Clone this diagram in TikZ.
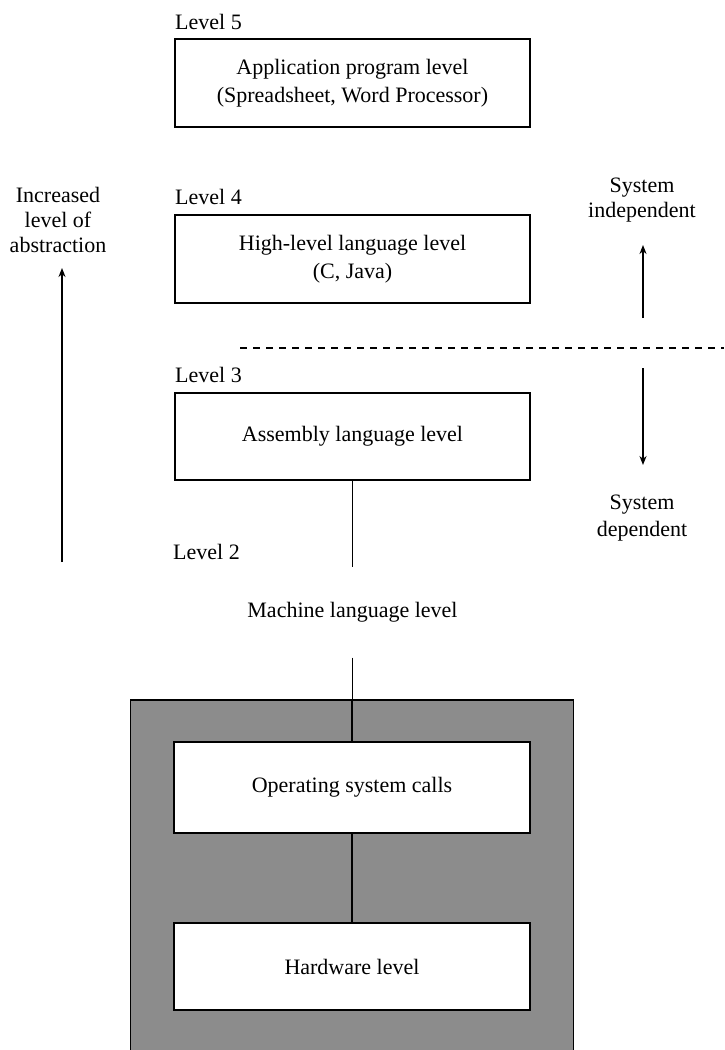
\documentclass[tikz,border=0pt]{standalone}
\usepackage{fontspec}
\setmainfont{Liberation Serif}
\usetikzlibrary{arrows.meta}
\begin{document}
\begin{tikzpicture}[x=1pt,y=-1pt,
  txt/.style={font=\fontsize{22}{27}\selectfont, inner sep=0pt, align=center},
  lvl/.style={font=\fontsize{22}{27}\selectfont, inner sep=0pt, anchor=west},
  levelbox/.style={draw, line width=1.4pt, fill=white, minimum width=355pt, inner sep=0pt,
    font=\fontsize{22}{28}\selectfont, align=center},
  conn/.style={line width=1.4pt},
  arr/.style={line width=1.5pt, -{Stealth[length=9pt,width=7pt]}}]
\useasboundingbox (0,0) rectangle (724,1050);

% labels of levels
\node[lvl] (l5) at (175,22) {Level 5};
\node[lvl] (l4) at (175,197) {Level 4};
\node[lvl] (l3) at (175,375) {Level 3};
\node[lvl] (l2) at (173,552) {Level 2};

% boxes
\node[levelbox, minimum height=88pt] (b5) at (352.5,83)
  {Application program level\\(Spreadsheet, Word Processor)};
\node[levelbox, minimum height=88pt] (b4) at (352.5,259)
  {High-level language level\\(C, Java)};
\node[levelbox, minimum height=87pt] (b3) at (352.5,436.5)
  {Assembly language level};
\node[levelbox, draw=none, fill=none, minimum height=89pt] (b2) at (352.5,612.5)
  {Machine language level};

% shaded region of the system
\node[draw, line width=1.4pt, fill=black!45, minimum width=443pt, minimum height=352pt, inner sep=0pt]
  (sys) at (352,876) {};
\node[levelbox, minimum width=356pt, minimum height=91pt] (b1) at (352,787.5)
  {Operating system calls};
\node[levelbox, minimum width=356pt, minimum height=87pt] (b0) at (352,966.5)
  {Hardware level};

% connectors
\draw[conn] (b3.south) -- (b2.north);
\draw[conn] (b2.south) -- (b2.south |- sys.north);
\draw[conn] (sys.north) -- (b1.north);
\draw[conn] (b1.south) -- (b0.north);

% separator
\coordinate (sepL) at (240,348);
\coordinate (sepR) at (724,348);
\draw[line width=1.4pt, dash pattern=on 7pt off 6pt] (sepL) -- (sepR);

% abstraction arrow
\node[txt] (abs) at (58,220) {Increased\\[-2pt]level of\\[-2pt]abstraction};
\coordinate (absB) at (62,562);
\coordinate (absT) at (62,268);
\draw[arr] (absB) -- (absT);

% system independent / dependent
\node[txt] (ind) at (642,200) {System\\[-2pt]independent};
\coordinate (indB) at (643,318);
\coordinate (indT) at (643,245);
\draw[arr] (indB) -- (indT);

\node[txt] (dep) at (642,518) {System\\dependent};
\coordinate (depT) at (643,368);
\coordinate (depB) at (643,465);
\draw[arr] (depT) -- (depB);
\end{tikzpicture}
\end{document}
